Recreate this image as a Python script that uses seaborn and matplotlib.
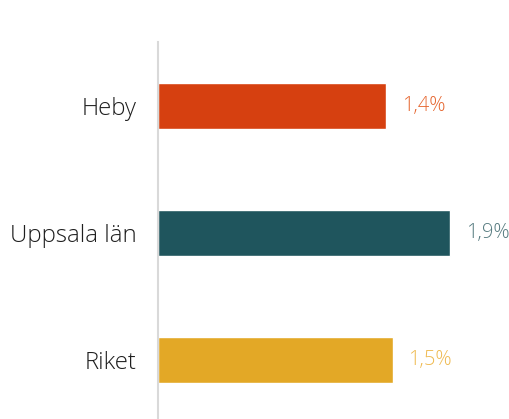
import matplotlib
matplotlib.use("Agg")
import matplotlib.pyplot as plt
import seaborn as sns
import pandas as pd

categories = ["Heby", "Uppsala län", "Riket"]
values = [1.446, 1.853, 1.49]
bar_colors = ["#D64010", "#1F555D", "#E3A826"]
label_colors = ["#E6662F", "#557A7F", "#EFBA50"]

sns.set_theme(style="white")
plt.rcParams['font.family'] = ['Open Sans', 'DejaVu Sans']

df = pd.DataFrame({"omr": categories, "val": values})

fig = plt.figure(figsize=(5.10, 4.19), dpi=100)
ax = fig.add_axes([0.31, 0.0, 0.676, 0.9])

sns.barplot(data=df, x="val", y="omr", hue="omr", palette=bar_colors,
            orient="h", width=0.36, legend=False, ax=ax, saturation=1)

ax.set_xlim(0, 2.185)
ax.set_ylim(2.465, -0.504)
ax.set_xlabel("")
ax.set_ylabel("")
ax.set_xticks([])
for s in ["top", "right", "bottom"]:
  ax.spines[s].set_visible(False)
ax.spines["left"].set_color("#D9D9D9")
ax.spines["left"].set_linewidth(1.5)

ax.tick_params(axis="y", length=0, pad=15.5, labelsize=17.3, labelcolor="#1E1E1E")
for lbl in ax.get_yticklabels():
  lbl.set_fontweight("light")

for i, v in enumerate(values):
  ax.annotate(("%.1f" % v).replace(".", ",") + "%", (v, i), xytext=(11, 0),
              textcoords="offset points", va="center", ha="left",
              fontsize=14.5, color=label_colors[i], fontweight="light")

fig.savefig("out.png", dpi=100)
